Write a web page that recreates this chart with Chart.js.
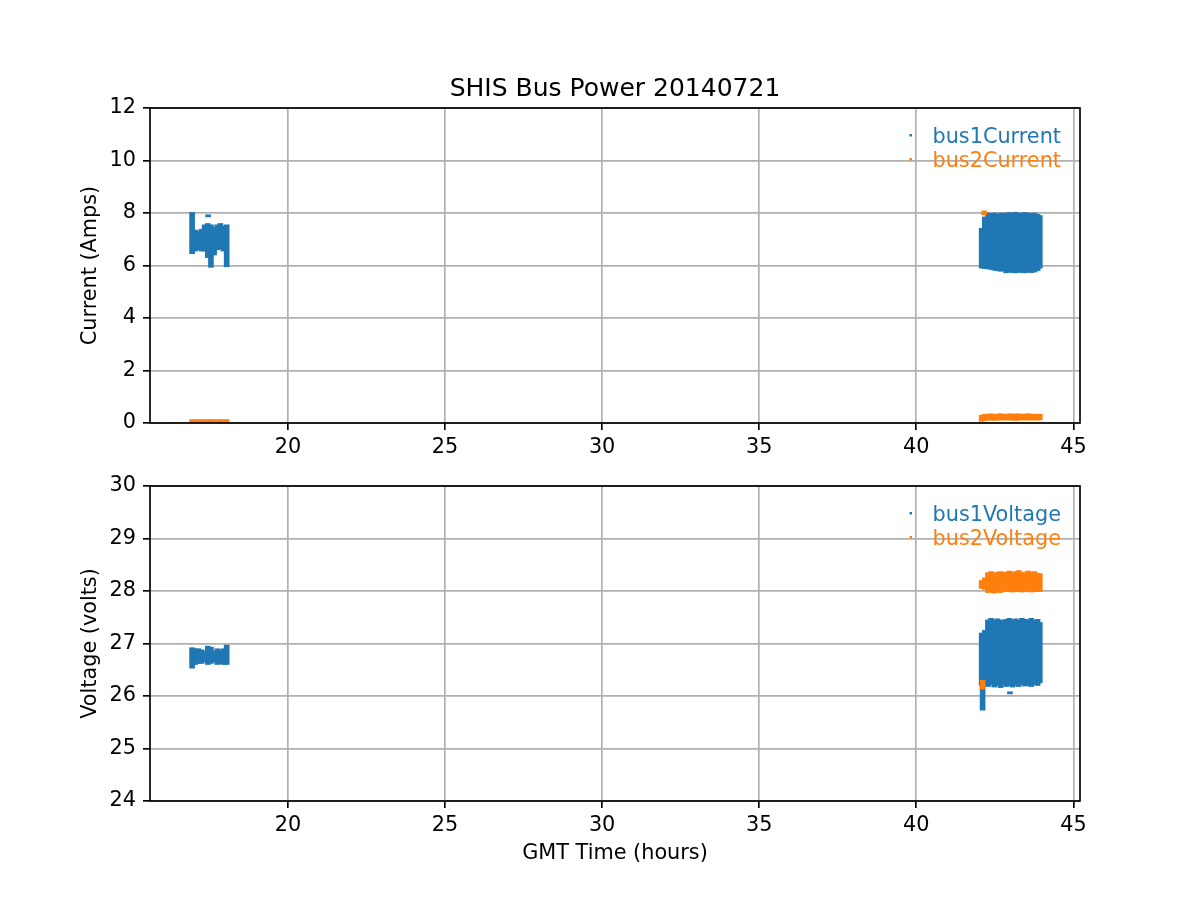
<!DOCTYPE html>
<html>
<head>
<meta charset="utf-8">
<title>SHIS Bus Power 20140721</title>
<script src="https://cdn.jsdelivr.net/npm/chart.js@4.4.0/dist/chart.umd.min.js"></script>
<style>
  body { margin: 0; background: #fff; }
  #wrap { position: relative; width: 1200px; height: 900px; }
  canvas { position: absolute; left: 0; }
  #chartCurrent { top: 0; width: 1200px; height: 470px; }
  #chartVoltage { top: 450px; width: 1200px; height: 450px; }
</style>
</head>
<body>
<div id="wrap">
  <canvas id="chartCurrent" width="1200" height="470"></canvas>
  <canvas id="chartVoltage" width="1200" height="450"></canvas>
</div>
<script>
// axis ticks and limits (hours GMT)
const timeTicks = [20, 25, 30, 35, 40, 45];
const currentTicks = [0, 2, 4, 6, 8, 10, 12];
const voltageTicks = [24, 25, 26, 27, 28, 29, 30];
const timeMin = 15.61;
const timeMax = 45.21;

// each series: time bins with the low / high value seen in that bin
const bus1CurrentTime = [16.95, 17.05, 17.15, 17.25, 17.35, 17.45, 17.55, 17.65, 17.75, 17.85, 17.95, 18.05, 17.46,
  42.08, 42.18, 42.28, 42.38, 42.48, 42.58, 42.68, 42.76, 42.86, 42.96, 43.06, 43.16, 43.26, 43.36, 43.46, 43.56, 43.66, 43.76, 43.86, 43.93];
const bus1CurrentLow = [6.45, 6.55, 6.6, 6.55, 6.55, 6.3, 5.93, 6.4, 6.6, 6.62, 6.55, 5.95, 7.85,
  5.9, 5.88, 5.87, 5.85, 5.82, 5.8, 5.78, 5.8, 5.72, 5.75, 5.73, 5.72, 5.75, 5.73, 5.72, 5.75, 5.73, 5.75, 5.8, 5.9];
const bus1CurrentHigh = [8.02, 7.35, 7.3, 7.38, 7.55, 7.6, 7.55, 7.45, 7.55, 7.6, 7.5, 7.55, 7.93,
  7.42, 7.85, 8.0, 7.98, 8.0, 7.95, 8.0, 7.97, 8.0, 8.02, 7.98, 8.03, 8.0, 7.97, 8.02, 8.0, 7.98, 8.0, 7.95, 7.9];

const bus2CurrentTime = [16.95, 17.05, 17.15, 17.25, 17.35, 17.45, 17.55, 17.65, 17.75, 17.85, 17.95, 18.05,
  42.08, 42.18, 42.28, 42.38, 42.48, 42.58, 42.68, 42.76, 42.86, 42.96, 43.06, 43.16, 43.26, 43.36, 43.46, 43.56, 43.66, 43.76, 43.86, 43.93, 42.16];
const bus2CurrentLow = [0.0, 0.0, 0.01, 0.0, 0.0, 0.01, 0.0, 0.0, 0.01, 0.0, 0.0, 0.01,
  0.06, 0.1, 0.11, 0.11, 0.1, 0.11, 0.12, 0.11, 0.11, 0.12, 0.11, 0.1, 0.11, 0.12, 0.11, 0.11, 0.12, 0.11, 0.11, 0.12, 7.93];
const bus2CurrentHigh = [0.13, 0.12, 0.13, 0.13, 0.12, 0.13, 0.13, 0.12, 0.13, 0.13, 0.12, 0.13,
  0.3, 0.33, 0.34, 0.35, 0.33, 0.34, 0.35, 0.34, 0.33, 0.35, 0.34, 0.34, 0.35, 0.33, 0.34, 0.35, 0.34, 0.33, 0.34, 0.33, 8.08];

const bus1VoltageTime = [16.95, 17.05, 17.15, 17.25, 17.35, 17.45, 17.55, 17.65, 17.75, 17.85, 17.95, 18.05,
  42.08, 42.18, 42.28, 42.38, 42.48, 42.58, 42.68, 42.76, 42.86, 42.96, 43.06, 43.16, 43.26, 43.36, 43.46, 43.56, 43.66, 43.76, 43.86, 43.93, 42.11, 42.98];
const bus1VoltageLow = [26.53, 26.6, 26.62, 26.62, 26.65, 26.6, 26.62, 26.65, 26.6, 26.62, 26.6, 26.6,
  26.2, 26.2, 26.18, 26.22, 26.17, 26.2, 26.16, 26.22, 26.18, 26.2, 26.17, 26.2, 26.18, 26.22, 26.19, 26.2, 26.18, 26.22, 26.2, 26.25, 25.73, 26.04];
const bus1VoltageHigh = [26.92, 26.9, 26.9, 26.88, 26.85, 26.95, 26.93, 26.85, 26.9, 26.88, 26.9, 26.97,
  27.2, 27.25, 27.45, 27.48, 27.44, 27.47, 27.45, 27.43, 27.46, 27.48, 27.45, 27.47, 27.44, 27.48, 27.46, 27.45, 27.48, 27.44, 27.46, 27.4, 26.3, 26.08];

const bus2VoltageTime = [42.08, 42.18, 42.28, 42.38, 42.48, 42.58, 42.68, 42.76, 42.86, 42.96, 43.06, 43.16, 43.26, 43.36, 43.46, 43.56, 43.66, 43.76, 43.86, 43.93, 42.11];
const bus2VoltageLow = [28.05, 28.03, 27.97, 27.98, 27.96, 27.98, 27.97, 27.99, 28.0, 27.99, 27.98, 28.0, 27.99, 27.98, 28.0, 27.99, 27.98, 28.0, 27.99, 27.99, 26.13];
const bus2VoltageHigh = [28.2, 28.25, 28.35, 28.37, 28.34, 28.36, 28.37, 28.35, 28.36, 28.38, 28.35, 28.37, 28.39, 28.36, 28.35, 28.38, 28.36, 28.37, 28.34, 28.33, 26.3];

const blue = "#1f77b4";
const orange = "#ff7f0e";
const lw = 1.67;
const fontFamily = "'DejaVu Sans', sans-serif";
const baseFont = { family: fontFamily, size: 20.8 };

function toRanges(times, lows, highs) {
  return times.map((t, i) => ({ x: t, y: [lows[i], highs[i]] }));
}

function series(label, color, times, lows, highs, order) {
  return {
    label: label,
    data: toRanges(times, lows, highs),
    backgroundColor: color,
    borderWidth: 0,
    barThickness: 5,
    grouped: false,
    order: order,
  };
}

// black box round the plot area, like matplotlib spines
const frameBox = {
  id: "frameBox",
  afterDatasetsDraw(chart) {
    const a = chart.chartArea;
    const ctx = chart.ctx;
    ctx.save();
    ctx.strokeStyle = "#000";
    ctx.lineWidth = lw;
    ctx.strokeRect(a.left, a.top, a.right - a.left, a.bottom - a.top);
    ctx.restore();
  },
};

// frameless legend in the upper right, text coloured like the series
const cornerLegend = {
  id: "cornerLegend",
  afterDraw(chart) {
    const a = chart.chartArea;
    const ctx = chart.ctx;
    ctx.save();
    ctx.font = "20.8px " + fontFamily;
    ctx.textBaseline = "alphabetic";
    const sets = chart.data.datasets;
    const widest = Math.max(...sets.map((d) => ctx.measureText(d.label).width));
    const textX = a.right - 19 - widest;
    sets.forEach((d, i) => {
      const base = a.top + 35 + i * 24;
      ctx.fillStyle = d.backgroundColor;
      ctx.fillRect(textX - 23, base - 9, 2.5, 2.5);
      ctx.fillText(d.label, textX, base);
    });
    ctx.restore();
  },
};

function timeAxis(withTitle) {
  return {
    type: "linear",
    min: timeMin,
    max: timeMax,
    offset: false,
    afterBuildTicks: (s) => {
      s.ticks = timeTicks.map((v) => ({ value: v }));
    },
    afterFit: (s) => {
      s.height = withTitle ? 99 : 47;
    },
    grid: { color: "#b0b0b0", lineWidth: lw, offset: false, tickLength: 7, tickColor: "#000", tickWidth: lw },
    border: { display: false },
    ticks: { padding: 5, font: baseFont, color: "#000", maxRotation: 0, autoSkip: false, callback: (v) => String(v) },
    title: {
      display: withTitle,
      text: "GMT Time (hours)",
      font: baseFont,
      color: "#000",
      padding: { top: 0, bottom: 34 },
    },
  };
}

function valueAxis(ticks, label) {
  return {
    type: "linear",
    min: ticks[0],
    max: ticks[ticks.length - 1],
    afterBuildTicks: (s) => {
      s.ticks = ticks.map((v) => ({ value: v }));
    },
    afterFit: (s) => {
      s.width = 72;
    },
    grid: { color: "#b0b0b0", lineWidth: lw, tickLength: 7, tickColor: "#000", tickWidth: lw },
    border: { display: false },
    ticks: { padding: 7, font: baseFont, color: "#000", callback: (v) => String(v) },
    title: { display: true, text: label, font: baseFont, color: "#000", padding: 0 },
  };
}

function drawPanel(canvasId, datasets, yTicks, yLabel, withXTitle, padTop, title) {
  const ctx = document.getElementById(canvasId).getContext("2d");
  return new Chart(ctx, {
    type: "bar",
    data: { datasets: datasets },
    options: {
      responsive: false,
      animation: false,
      devicePixelRatio: 1,
      events: [],
      layout: { padding: { left: 78, right: 120, top: padTop, bottom: 0 } },
      plugins: {
        legend: { display: false },
        tooltip: { enabled: false },
        title: {
          display: !!title,
          text: title,
          fullSize: false,
          color: "#000",
          font: { family: fontFamily, size: 25, weight: "normal" },
          padding: { top: 1, bottom: 4 },
        },
      },
      scales: {
        x: timeAxis(withXTitle),
        y: valueAxis(yTicks, yLabel),
      },
    },
    plugins: [frameBox, cornerLegend],
  });
}

drawPanel(
  "chartCurrent",
  [
    series("bus1Current", blue, bus1CurrentTime, bus1CurrentLow, bus1CurrentHigh, 1),
    series("bus2Current", orange, bus2CurrentTime, bus2CurrentLow, bus2CurrentHigh, 0),
  ],
  currentTicks,
  "Current (Amps)",
  false,
  73,
  "SHIS Bus Power 20140721"
);

drawPanel(
  "chartVoltage",
  [
    series("bus1Voltage", blue, bus1VoltageTime, bus1VoltageLow, bus1VoltageHigh, 1),
    series("bus2Voltage", orange, bus2VoltageTime, bus2VoltageLow, bus2VoltageHigh, 0),
  ],
  voltageTicks,
  "Voltage (volts)",
  true,
  36,
  ""
);
</script>
</body>
</html>
